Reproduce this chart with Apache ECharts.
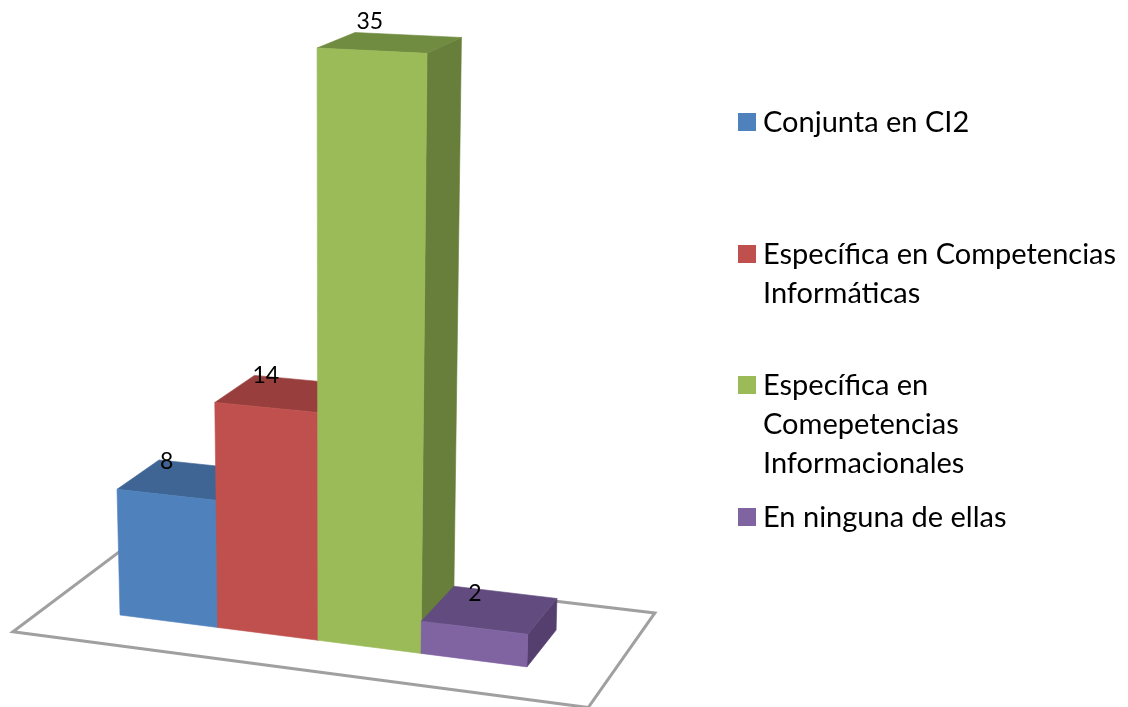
<!DOCTYPE html>
<html>
<head>
<meta charset="utf-8">
<style>html,body{margin:0;padding:0;background:#fff}#c{width:1128px;height:707px}</style>
<script src="https://cdn.jsdelivr.net/npm/echarts@6/dist/echarts.min.js"></script>
</head>
<body>
<div id="c"></div>
<script>
const categories = ['Conjunta en CI2', 'Específica en Competencias\nInformáticas', 'Específica en\nComepetencias\nInformacionales', 'En ninguna de ellas'];
const values = [8, 14, 35, 2];
const frontColors = ['#4F81BD', '#C0504D', '#9BBB59', '#8064A2'];
const topColors = ['#3E6593', '#983F3D', '#708C40', '#624C7F'];
const sideColors = ['#35567E', '#813533', '#677F3B', '#543F6E'];
const legendFirstLineY = [123, 255, 386, 518];

const FONT = 'Lato, "Open Sans", sans-serif';
const GRID = { left: 120, top: 35.4, width: 379.2, height: 579.6 };
const UNIT_U = GRID.width / categories.length;
const UNIT_H = GRID.height / 35;
const BOTTOM = GRID.top + GRID.height;

// Perspective camera for the plot: plain axis pixels + depth -> screen point
function project(px, py, d) {
  const u = (px - GRID.left) / UNIT_U;
  const h = (BOTTOM - py) / UNIT_H;
  const X = px - 0.577 * h + 47 * d;
  const Y = py + 4.2 * u - 13 * d;
  const W = 1 - 0.01316 * u - 0.00174 * h + 0.0348 * d;
  return [X / W, Y / W];
}

function renderFloor() {
  const x0 = GRID.left - 0.76 * UNIT_U, x1 = GRID.left + 4.76 * UNIT_U;
  const d0 = -0.75, d1 = 1.76;
  return {
    type: 'polygon', silent: true,
    shape: { points: [project(x0, BOTTOM, d0), project(x1, BOTTOM, d0), project(x1, BOTTOM, d1), project(x0, BOTTOM, d1)] },
    style: { fill: '#fff', stroke: '#A0A0A0', lineWidth: 3, lineJoin: 'miter' }
  };
}

function renderBar(params, api) {
  const i = api.value(0), v = api.value(1);
  const c = api.coord([i, v]);
  const b = api.coord([i, 0]);
  const half = api.size([1, 0])[0] / 2;
  const L = c[0] - half, R = c[0] + half;
  const T = c[1], B = b[1];
  const poly = (pts, fill) => ({
    type: 'polygon', silent: true,
    shape: { points: pts.map(p => project(p[0], p[1], p[2])) },
    style: { fill: fill, stroke: fill, lineWidth: 0.6 }
  });
  const anchor = project(c[0], T, 0);
  return {
    type: 'group',
    children: [
      poly([[R, B, 0], [R, B, 1], [R, T, 1], [R, T, 0]], sideColors[i]),
      poly([[L, T, 0], [R, T, 0], [R, T, 1], [L, T, 1]], topColors[i]),
      poly([[L, B, 0], [R, B, 0], [R, T, 0], [L, T, 0]], frontColors[i]),
      {
        type: 'text', silent: true, z2: 10,
        style: {
          x: anchor[0] - 0.08 * v + 1, y: anchor[1] - 34 + 0.14 * v,
          text: String(v), fill: '#000', font: '23px ' + FONT,
          textAlign: 'center', textVerticalAlign: 'middle'
        }
      }
    ]
  };
}

const legendGraphics = [];
categories.forEach((name, i) => {
  legendGraphics.push({
    type: 'rect', left: 738, top: legendFirstLineY[i] - 10,
    shape: { width: 18, height: 18 }, style: { fill: frontColors[i] }
  });
  legendGraphics.push({
    type: 'text', left: 763, top: legendFirstLineY[i] - 19.5,
    style: { text: name, fill: '#000', font: '29px ' + FONT, lineHeight: 39 }
  });
});

const chart = echarts.init(document.getElementById('c'), null, { renderer: 'canvas' });
chart.setOption({
  animation: false,
  backgroundColor: '#fff',
  grid: GRID,
  xAxis: { type: 'category', data: categories, show: false },
  yAxis: { type: 'value', min: 0, max: 35, show: false },
  graphic: legendGraphics,
  series: [
    { type: 'custom', name: 'Suelo', data: [[0, 0]], renderItem: renderFloor, z: 1, silent: true, clip: false },
    { type: 'custom', name: 'Valores', data: values.map((v, i) => [i, v]), encode: { x: 0, y: 1 }, renderItem: renderBar, z: 2, clip: false }
  ]
});
</script>
</body>
</html>
